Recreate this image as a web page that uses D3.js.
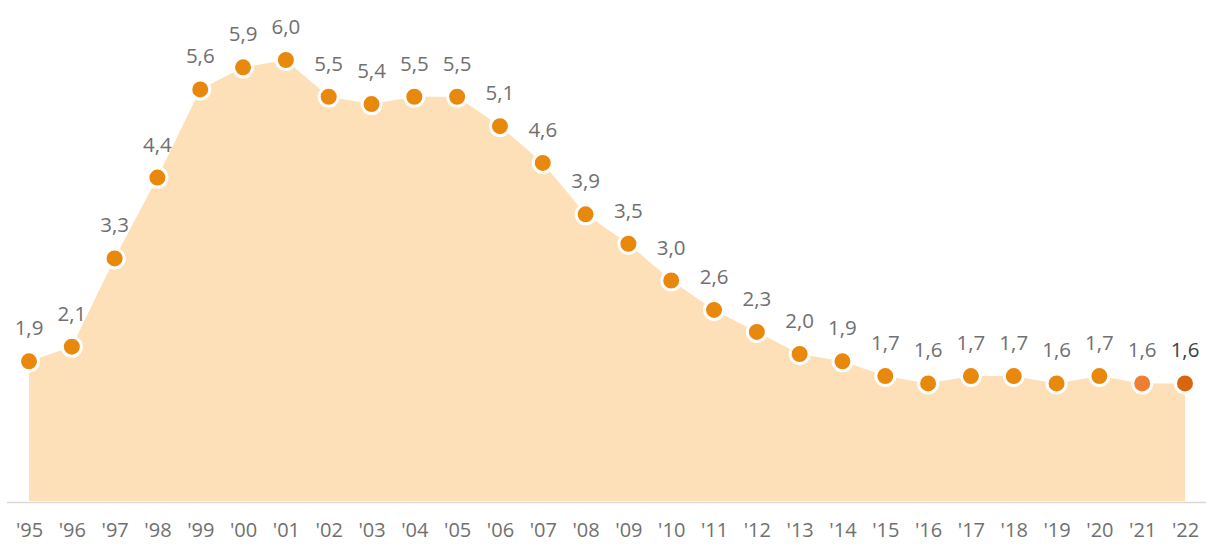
<!DOCTYPE html>
<html><head><meta charset="utf-8">
<script src="https://cdn.jsdelivr.net/npm/d3@7"></script>
<style>body{margin:0;background:#fff}svg{display:block}</style>
</head><body>
<svg id="c" width="1209" height="546"></svg>
<script>
const years = ["'95","'96","'97","'98","'99","'00","'01","'02","'03","'04","'05","'06","'07","'08","'09","'10","'11","'12","'13","'14","'15","'16","'17","'18","'19","'20","'21","'22"];
const values = [1.9,2.1,3.3,4.4,5.6,5.9,6.0,5.5,5.4,5.5,5.5,5.1,4.6,3.9,3.5,3.0,2.6,2.3,2.0,1.9,1.7,1.6,1.7,1.7,1.6,1.7,1.6,1.6];
const labels = ["1,9","2,1","3,3","4,4","5,6","5,9","6,0","5,5","5,4","5,5","5,5","5,1","4,6","3,9","3,5","3,0","2,6","2,3","2,0","1,9","1,7","1,6","1,7","1,7","1,6","1,7","1,6","1,6"];

const svg = d3.select("#c");
const data = years.map((y,i)=>({y, v: values[i], l: labels[i], i}));
const x = d3.scalePoint().domain(years).range([29,1185]);
const y = d3.scaleLinear().domain([0,6]).range([501,60]);

svg.append("path").datum(data)
  .attr("fill","#FDDFB8")
  .attr("d", d3.area().x(d=>x(d.y)).y0(y(0)).y1(d=>y(d.v)));

const ax = svg.append("g").attr("transform",`translate(0,${y(0)+1})`)
  .call(d3.axisBottom(x).tickSize(0).tickPadding(21));
ax.select(".domain").attr("d","M7,0.5H1206").attr("stroke","#D9D9D9").attr("stroke-width",1.5);
ax.selectAll("text").attr("font-family","Open Sans, sans-serif").attr("font-size",20).attr("fill","#707070");

const dotColor = i => i===26 ? "#EE7E33" : (i===27 ? "#D9660E" : "#E8890E");
svg.append("g").selectAll("circle").data(data).join("circle")
  .attr("cx",d=>x(d.y)).attr("cy",d=>y(d.v)).attr("r",9.5)
  .attr("fill",d=>dotColor(d.i)).attr("stroke","#fff").attr("stroke-width",3);

svg.append("g").selectAll("text").data(data).join("text")
  .attr("x",d=>x(d.y)).attr("y",d=>y(d.v)-26)
  .attr("text-anchor","middle")
  .attr("font-family","Open Sans, sans-serif").attr("font-size",20.5)
  .attr("fill",d=>d.i===27?"#404040":"#707070")
  .text(d=>d.l);
</script>
</body></html>
